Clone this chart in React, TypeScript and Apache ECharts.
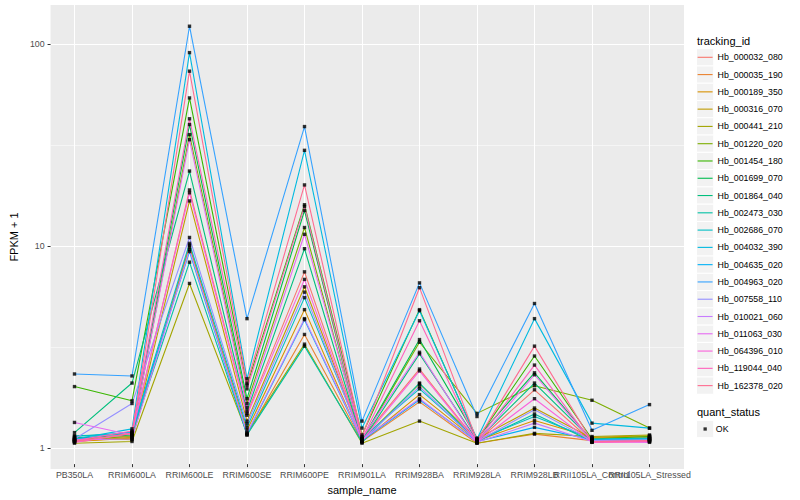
import React, { useEffect, useRef } from "react";
import * as echarts from "echarts";

const categories = [
  "PB350LA", "RRIM600LA", "RRIM600LE", "RRIM600SE", "RRIM600PE", "RRIM901LA",
  "RRIM928BA", "RRIM928LA", "RRIM928LB", "RRII105LA_Control", "RRII105LA_Stressed",
];

const trackingIds = [
  "Hb_000032_080", "Hb_000035_190", "Hb_000189_350", "Hb_000316_070", "Hb_000441_210",
  "Hb_001220_020", "Hb_001454_180", "Hb_001699_070", "Hb_001864_040", "Hb_002473_030",
  "Hb_002686_070", "Hb_004032_390", "Hb_004635_020", "Hb_004963_020", "Hb_007558_110",
  "Hb_010021_060", "Hb_011063_030", "Hb_064396_010", "Hb_119044_040", "Hb_162378_020",
];

const palette = [
  "#F8766D", "#EA8331", "#D89000", "#C09B00", "#A3A500", "#7CAE00", "#39B600", "#00BB4E",
  "#00BF7D", "#00C1A3", "#00BFC4", "#00BAE0", "#00B0F6", "#35A2FF", "#9590FF", "#C77CFF",
  "#E76BF3", "#FA62DB", "#FF62BC", "#FF6C91",
];

// FPKM + 1 per sample (same order as categories)
const hb_000032_080 = [1.03, 1.09, 18.5, 1.41, 7.2, 1.05, 2.35, 1.02, 1.85, 1.02, 1.06];
const hb_000035_190 = [1.02, 1.07, 9.8, 1.1, 3.5, 1.02, 1.61, 1.0, 1.11, 1.03, 1.07];
const hb_000189_350 = [1.02, 1.06, 9.6, 1.16, 4.66, 1.02, 1.75, 1.03, 1.3, 1.07, 1.09];
const hb_000316_070 = [1.07, 1.04, 16.3, 1.29, 6.06, 1.04, 1.98, 1.05, 1.5, 1.06, 1.08];
const hb_000441_210 = [1.0, 1.02, 6.3, 1.12, 3.13, 1.0, 1.29, 1.0, 1.12, 1.08, 1.1];
const hb_001220_020 = [1.04, 1.08, 35, 1.58, 12, 1.03, 3.2, 1.41, 1.94, 1.64, 1.19];
const hb_001454_180 = [1.92, 1.63, 53.4, 1.95, 15.6, 1.1, 4.66, 1.04, 2.73, 1.05, 1.08];
const hb_001699_070 = [1.06, 1.1, 39.3, 1.67, 14.6, 1.04, 3.3, 1.06, 2.25, 1.03, 1.04];
const hb_001864_040 = [1.13, 2.0, 23, 1.45, 9.4, 1.02, 2.8, 1.03, 2.0, 1.04, 1.05];
const hb_002473_030 = [1.09, 1.11, 8.05, 1.1, 3.06, 1.01, 2.0, 1.02, 1.4, 1.02, 1.05];
const hb_002686_070 = [1.08, 1.13, 10, 1.2, 5.35, 1.06, 1.87, 1.04, 1.36, 1.05, 1.06];
const hb_004032_390 = [1.05, 1.18, 90, 2.1, 29.2, 1.19, 4.6, 1.05, 4.2, 1.26, 1.19];
const hb_004635_020 = [1.04, 1.14, 9.1, 1.11, 4.15, 1.03, 1.65, 1.02, 1.2, 1.04, 1.05];
const hb_004963_020 = [2.22, 2.17, 122, 4.2, 38.4, 1.29, 6.34, 1.36, 5.0, 1.16, 1.56];
const hb_007558_110 = [1.05, 1.58, 10.7, 1.25, 5.7, 1.03, 1.92, 1.02, 1.47, 1.03, 1.04];
const hb_010021_060 = [1.04, 1.05, 9.3, 1.12, 4.2, 1.04, 1.67, 1.01, 1.26, 1.02, 1.03];
const hb_011063_030 = [1.27, 1.1, 33, 1.51, 11.1, 1.06, 2.85, 1.01, 2.2, 1.02, 1.01];
const hb_064396_010 = [1.01, 1.12, 17.9, 1.38, 6.6, 1.03, 2.3, 1.01, 1.67, 1.01, 1.02];
const hb_119044_040 = [1.03, 1.15, 42, 1.87, 15.3, 1.05, 4.1, 1.02, 2.46, 1.01, 1.02];
const hb_162378_020 = [1.02, 1.12, 72.7, 2.0, 19.6, 1.08, 6.0, 1.03, 3.06, 1.02, 1.03];

const seriesValues = [
  hb_000032_080, hb_000035_190, hb_000189_350, hb_000316_070, hb_000441_210,
  hb_001220_020, hb_001454_180, hb_001699_070, hb_001864_040, hb_002473_030,
  hb_002686_070, hb_004032_390, hb_004635_020, hb_004963_020, hb_007558_110,
  hb_010021_060, hb_011063_030, hb_064396_010, hb_119044_040, hb_162378_020,
];

const majorTicks = [1, 10, 100];
const minorTicks = [3.1623, 31.623];
const quantStatus = ["OK"];

const FONT = "'Liberation Sans', Arial, Helvetica, sans-serif";
const Y_MIN = 0.786;
const Y_MAX = 155.8;

export default function App() {
  const ref = useRef<HTMLDivElement>(null);

  useEffect(() => {
    if (!ref.current) return;
    const chart = echarts.init(ref.current, null, { renderer: "svg" });

    const lineSeries = trackingIds.map((id, i) => ({
      name: id,
      type: "line",
      xAxisIndex: 1,
      yAxisIndex: 2,
      data: seriesValues[i],
      symbol: "none",
      showSymbol: false,
      color: palette[i],
      lineStyle: { color: palette[i], width: 1.1 },
      itemStyle: { color: palette[i] },
      emphasis: { disabled: true },
      silent: true,
      z: 2,
    }));

    const points: [number, number][] = [];
    seriesValues.forEach((vals) => vals.forEach((v, j) => points.push([j, v])));

    const keyStep = 17.28;
    const key0 = 57.3;
    const keyBoxes = trackingIds.map((_, k) => ({
      type: "rect",
      shape: { x: 696.5, y: key0 + k * keyStep - keyStep / 2, width: keyStep, height: keyStep },
      style: { fill: "#F2F2F2", stroke: "#FFFFFF", lineWidth: 1 },
      silent: true,
      z: 0,
    }));
    const okCenter = 429;

    chart.setOption({
      animation: false,
      backgroundColor: "#FFFFFF",
      textStyle: { fontFamily: FONT },
      grid: [
        { left: 40, top: 5, width: 644, height: 464, show: true, backgroundColor: "#EBEBEB", borderWidth: 0 },
        { left: 74.5, top: 5, width: 575, height: 464, show: false },
      ],
      xAxis: [
        { gridIndex: 0, type: "value", min: 0, max: 1, show: false },
        {
          gridIndex: 1,
          type: "category",
          data: categories,
          boundaryGap: false,
          axisLine: { show: false },
          axisTick: { show: true, length: 3, lineStyle: { color: "#333333", width: 1 } },
          axisLabel: { interval: 0, hideOverlap: false, color: "#4D4D4D", fontSize: 8.8, margin: 6, fontFamily: FONT },
          splitLine: { show: true, lineStyle: { color: "#FFFFFF", width: 1.07 } },
          name: "sample_name",
          nameLocation: "middle",
          nameGap: 12,
          nameTextStyle: { color: "#000000", fontSize: 11, fontFamily: FONT },
        },
      ],
      yAxis: [
        {
          gridIndex: 0,
          type: "log",
          logBase: 10,
          min: Y_MIN,
          max: Y_MAX,
          axisLine: { show: false },
          axisTick: { show: true, length: 3, lineStyle: { color: "#333333", width: 1 }, customValues: majorTicks },
          axisLabel: { customValues: majorTicks, color: "#4D4D4D", fontSize: 8.8, margin: 6, fontFamily: FONT },
          splitLine: { show: true, lineStyle: { color: "#FFFFFF", width: 1.07 } },
          name: "FPKM + 1",
          nameLocation: "middle",
          nameGap: 23,
          nameTextStyle: { color: "#000000", fontSize: 11, fontFamily: FONT },
        },
        {
          gridIndex: 0,
          type: "log",
          logBase: 10,
          min: Y_MIN,
          max: Y_MAX,
          position: "right",
          axisLine: { show: false },
          axisTick: { show: false, customValues: minorTicks },
          axisLabel: { show: false, customValues: minorTicks },
          splitLine: { show: true, lineStyle: { color: "#FFFFFF", width: 0.53 } },
        },
        { gridIndex: 1, type: "log", logBase: 10, min: Y_MIN, max: Y_MAX, show: false },
      ],
      legend: [
        {
          data: trackingIds,
          orient: "vertical",
          left: 697.6,
          top: key0 - keyStep / 2,
          padding: 0,
          itemGap: 0,
          itemWidth: 15,
          itemHeight: 1.1,
          icon: "rect",
          selectedMode: false,
          textStyle: { fontSize: 8.8, color: "#000000", lineHeight: keyStep, fontFamily: FONT },
        },
        {
          data: quantStatus,
          orient: "vertical",
          left: 703.5,
          top: okCenter - keyStep / 2,
          padding: 0,
          itemWidth: 3.3,
          itemHeight: 3.3,
          icon: "rect",
          selectedMode: false,
          textStyle: { fontSize: 8.8, color: "#000000", lineHeight: keyStep, padding: [0, 0, 0, 4], fontFamily: FONT },
        },
      ],
      graphic: [
        ...keyBoxes,
        {
          type: "rect",
          shape: { x: 696.5, y: okCenter - keyStep / 2, width: keyStep, height: keyStep },
          style: { fill: "#F2F2F2", stroke: "#FFFFFF", lineWidth: 1 },
          silent: true,
          z: 0,
        },
        {
          type: "text",
          x: 697,
          y: 40.7,
          style: { text: "tracking_id", fontSize: 11, fill: "#000000", fontFamily: FONT, verticalAlign: "middle" },
          z: 5,
        },
        {
          type: "text",
          x: 697,
          y: 412,
          style: { text: "quant_status", fontSize: 11, fill: "#000000", fontFamily: FONT, verticalAlign: "middle" },
          z: 5,
        },
      ],
      series: [
        ...lineSeries,
        {
          name: "OK",
          type: "scatter",
          xAxisIndex: 1,
          yAxisIndex: 2,
          data: points,
          symbol: "rect",
          symbolSize: 3.4,
          itemStyle: { color: "#000000" },
          color: "#000000",
          emphasis: { disabled: true },
          silent: true,
          z: 3,
        },
      ],
    });

    return () => chart.dispose();
  }, []);

  return <div ref={ref} style={{ width: 800, height: 500, position: "fixed", left: 0, top: 0 }} />;
}
